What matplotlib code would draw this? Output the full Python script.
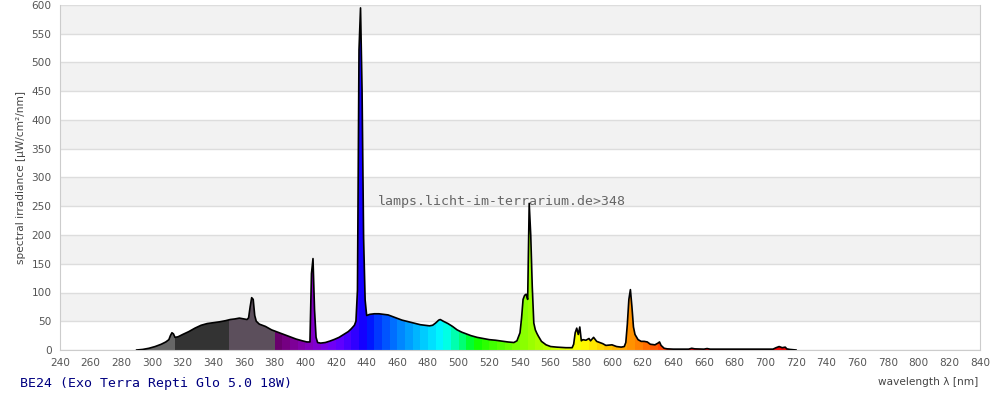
import matplotlib
matplotlib.use("Agg")
from matplotlib import pyplot as plt

# spectrum (nm, µW/cm²/nm)
wavelength = [
    290, 294, 298, 302, 306, 309, 311, 312, 313, 314, 315, 317, 320, 324, 328,
    332, 336, 340, 344, 348, 351, 354, 357, 360, 362, 363, 364, 365, 366, 367,
    368, 370, 374, 378, 382, 386, 390, 394, 398, 401, 403, 404, 405, 406, 407,
    408, 410, 413, 416, 419, 422, 425, 428, 430, 432, 433, 434, 435, 436, 437,
    438, 439, 440, 442, 445, 448, 451, 454, 457, 460, 463, 466, 469, 472, 475,
    478, 481, 483, 485, 487, 488, 490, 493, 496, 499, 502, 505, 508, 512, 516,
    520, 524, 528, 532, 536, 538, 540, 541, 542, 543, 544, 545, 546, 547, 548,
    549, 550, 551, 552, 554, 557, 560, 564, 570, 574, 575, 576, 577, 578, 579,
    580, 581, 583, 585, 586, 588, 590, 592, 594, 596, 598, 600, 603, 606, 608,
    609, 610, 611, 612, 613, 614, 615, 617, 619, 621, 623, 625, 628, 630, 631,
    632, 634, 636, 640, 650, 652, 654, 660, 662, 664, 690, 700, 705, 707, 709,
    711, 713, 714, 716, 720,
]
irradiance = [
    0, 1, 3, 6, 10, 14, 18, 25, 30, 28, 22, 23, 27, 32, 38,
    43, 46, 47.5, 49, 51, 53, 54, 55.5, 54, 53, 56, 75, 91, 88, 60,
    50, 45, 41, 35, 31, 27, 23, 19, 16, 14, 14, 133, 159, 70, 22,
    13, 12, 13, 15.5, 18.5, 22, 27, 32, 37, 43, 50, 104, 522, 595, 452,
    195, 87, 60, 62, 63, 63, 62, 61, 58, 55, 52, 50, 48, 46, 44,
    43, 42, 43, 47, 52, 53, 50, 46, 41, 35, 31, 28, 25, 22, 20,
    18, 17, 15.5, 14, 13, 16, 30, 55, 88, 95, 97, 88, 255, 200, 110,
    47, 35, 29, 24, 15, 9, 6, 5, 4, 4, 10, 30, 38, 27, 40,
    16, 18, 17, 20, 16, 22, 15, 13, 11, 8, 8.5, 9, 6, 5, 6,
    13, 45, 88, 105, 75, 40, 27, 18, 15, 15, 14, 10, 9, 12, 14,
    8, 3, 2, 1.5, 1.5, 3, 2, 1.5, 2.5, 1.5, 1.5, 1.5, 1.5, 4, 6,
    4, 5, 2, 1, 0,
]

# colour bands under the curve
uv_bands = [(290, 315, "#666666"), (315, 350, "#333333"), (350, 380, "#5c4f5c")]
visible_start = 380
visible_end = 780
band_width = 5


def wl_to_rgb(wl):
    if wl < 440:
        r, g, b = -(wl - 440) / 60, 0.0, 1.0
    elif wl < 490:
        r, g, b = 0.0, (wl - 440) / 50, 1.0
    elif wl < 510:
        r, g, b = 0.0, 1.0, -(wl - 510) / 20
    elif wl < 580:
        r, g, b = (wl - 510) / 70, 1.0, 0.0
    elif wl < 645:
        r, g, b = 1.0, -(wl - 645) / 65, 0.0
    else:
        r, g, b = 1.0, 0.0, 0.0
    if wl < 420:
        f = 0.3 + 0.7 * (wl - 380) / 40
    elif wl > 700:
        f = 0.3 + 0.7 * (780 - wl) / 80
    else:
        f = 1.0
    return tuple((c * f) ** 0.8 if c > 0 else 0.0 for c in (r, g, b))


fig = plt.figure(figsize=(10, 4), dpi=100)
ax = fig.add_axes([0.06, 0.125, 0.92, 0.8625])

# alternating background stripes + grid
for lo in range(50, 600, 100):
    ax.axhspan(lo, lo + 50, color="#f2f2f2", zorder=0, linewidth=0)
ax.set_axisbelow(True)
ax.yaxis.grid(True, color="#dddddd", linewidth=1)

# coloured fill clipped to the spectrum outline
fill = ax.fill_between(wavelength, 0, irradiance, facecolor="none", edgecolor="none")
clip = fill.get_paths()[0]

starts, widths, colors = [], [], []
for lo, hi, c in uv_bands:
    starts.append(lo)
    widths.append(hi - lo)
    colors.append(c)
for lo in range(visible_start, visible_end, band_width):
    starts.append(lo)
    widths.append(band_width)
    colors.append(wl_to_rgb(lo + band_width / 2))

bars = ax.bar(starts, 600, width=widths, align="edge", color=colors, linewidth=0, zorder=2)
for patch in bars:
    patch.set_clip_path(clip, ax.transData)

ax.plot(wavelength, irradiance, color="black", linewidth=1.2, zorder=3)

ax.set_xlim(240, 840)
ax.set_ylim(0, 600)
ax.set_xticks(range(240, 841, 20))
ax.set_yticks(range(0, 601, 50))
ax.tick_params(length=0, labelsize=7.6, labelcolor="#555555", pad=6)

for side in ["left", "bottom", "right"]:
    ax.spines[side].set_color("#cccccc")
ax.spines["top"].set_visible(False)

ax.set_ylabel("spectral irradiance [µW/cm²/nm]", fontsize=7.6, color="#444444", labelpad=4)
fig.text(0.978, 0.045, "wavelength λ [nm]", ha="right", va="center", fontsize=7.6, color="#444444")
fig.text(0.02, 0.04, "BE24 (Exo Terra Repti Glo 5.0 18W)", ha="left", va="center",
         fontsize=9.5, color="#000080", family="DejaVu Sans Mono")
ax.text(447.5, 259, "lamps.licht-im-terrarium.de>348", ha="left", va="center",
        fontsize=9.5, color="#666666", family="DejaVu Sans Mono", zorder=1)

fig.savefig("out.png", dpi=100)
